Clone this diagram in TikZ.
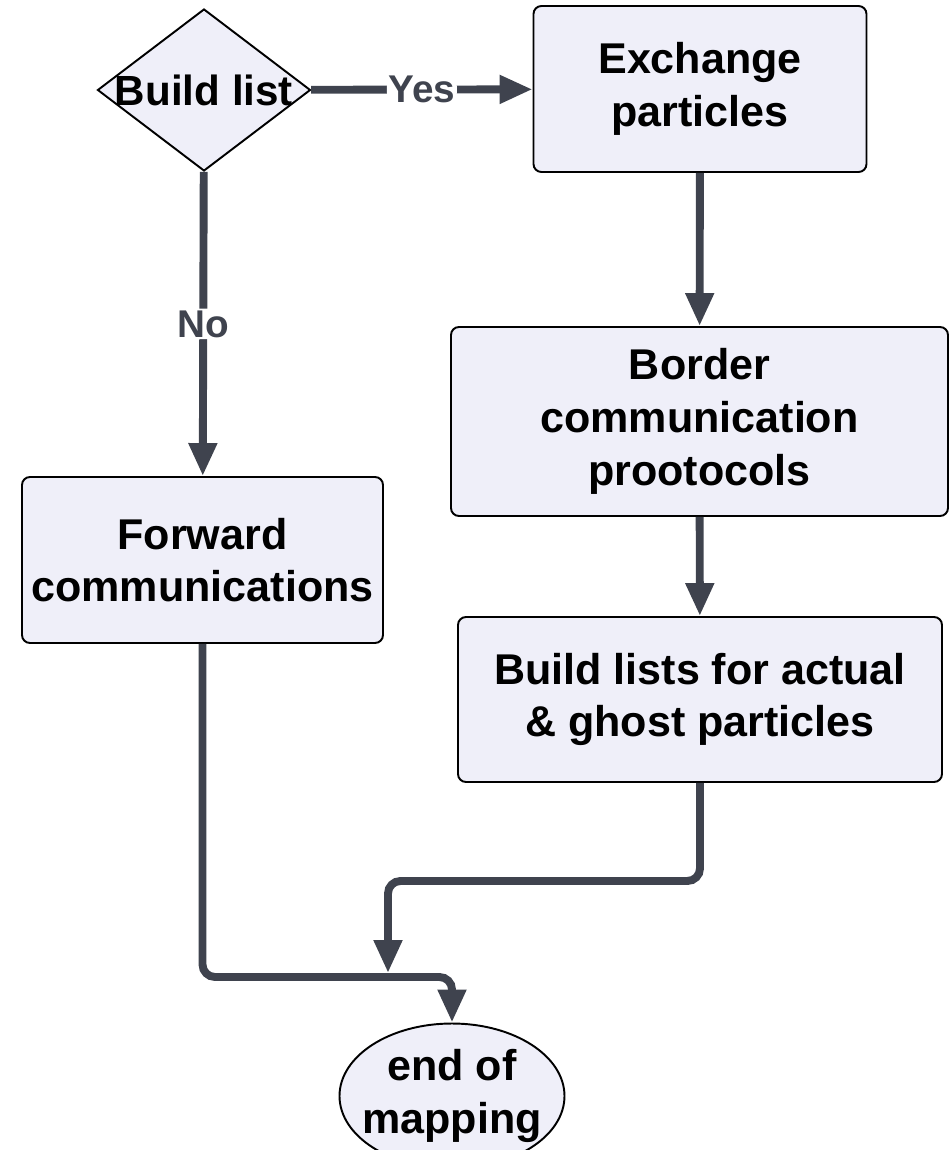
\documentclass[tikz,border=0pt]{standalone}
\usepackage{fontspec}
\setmainfont{Liberation Sans}
\usepackage{tikz}
\usetikzlibrary{shapes.geometric, arrows.meta, positioning, calc}
\definecolor{boxfill}{HTML}{EFEFF9}
\definecolor{linegray}{HTML}{3F434E}
\begin{document}
\begin{tikzpicture}[
    proc/.style={rectangle, draw=black, line width=1.1pt, rounded corners=0.16cm,
                 fill=boxfill, align=center, inner sep=0pt,
                 font=\bfseries\fontsize{24.5}{30}\selectfont},
    dec/.style={diamond, draw=black, line width=1.1pt, fill=boxfill, inner sep=0pt,
                minimum width=4.26cm, minimum height=3.24cm,
                font=\bfseries\fontsize{24}{30}\selectfont},
    term/.style={ellipse, draw=black, line width=1.1pt, fill=boxfill, inner sep=0pt,
                 minimum width=4.5cm, minimum height=2.9cm, align=center,
                 font=\bfseries\fontsize{24.5}{30}\selectfont},
    arr/.style={-{Triangle[length=0.66cm,width=0.54cm]}, draw=linegray,
                line width=4.5pt, rounded corners=0.25cm},
    lbl/.style={fill=white, inner sep=1pt, text=linegray,
                font=\bfseries\fontsize{22}{26}\selectfont}]

  \useasboundingbox (0,0) rectangle (19,-23);
  \clip (0,0) rectangle (19,-23);

  % nodes
  \node[dec]  (build)  at (4.08,-1.80)  {\makebox[0pt]{Build list}};
  \node[proc, minimum width=6.66cm, minimum height=3.32cm] (exch)   at (14.00,-1.78)
       {Exchange\\particles};
  \node[proc, minimum width=9.94cm, minimum height=3.78cm] (border) at (13.99,-8.43)
       {Border\\communication\\prootocols};
  \node[proc, minimum width=9.68cm, minimum height=3.30cm] (lists)  at (14.00,-13.99)
       {Build lists for actual\\\& ghost particles};
  \node[proc, minimum width=7.22cm, minimum height=3.32cm] (fwd)    at (4.05,-11.20)
       {Forward\\communications};
  \node[term] (finish) at (9.04,-21.92)
       {\makebox[0pt]{end of}\\\makebox[0pt]{mapping}};

  \coordinate (merge) at (7.76,-19.46);
  \coordinate (bend)  at (9.04,-19.54);

  % connectors
  \draw[arr] (build) -- node[lbl]{Yes} (exch);
  \draw[arr] (build) -- node[lbl]{No} (fwd);
  \draw[arr] (exch) -- (border);
  \draw[arr] (border) -- (lists);
  \draw[arr] (lists.south) -- ++(0,-1.96) -| (merge);
  \draw[arr] (fwd.south) |- (bend) -- (finish.north);
\end{tikzpicture}
\end{document}
